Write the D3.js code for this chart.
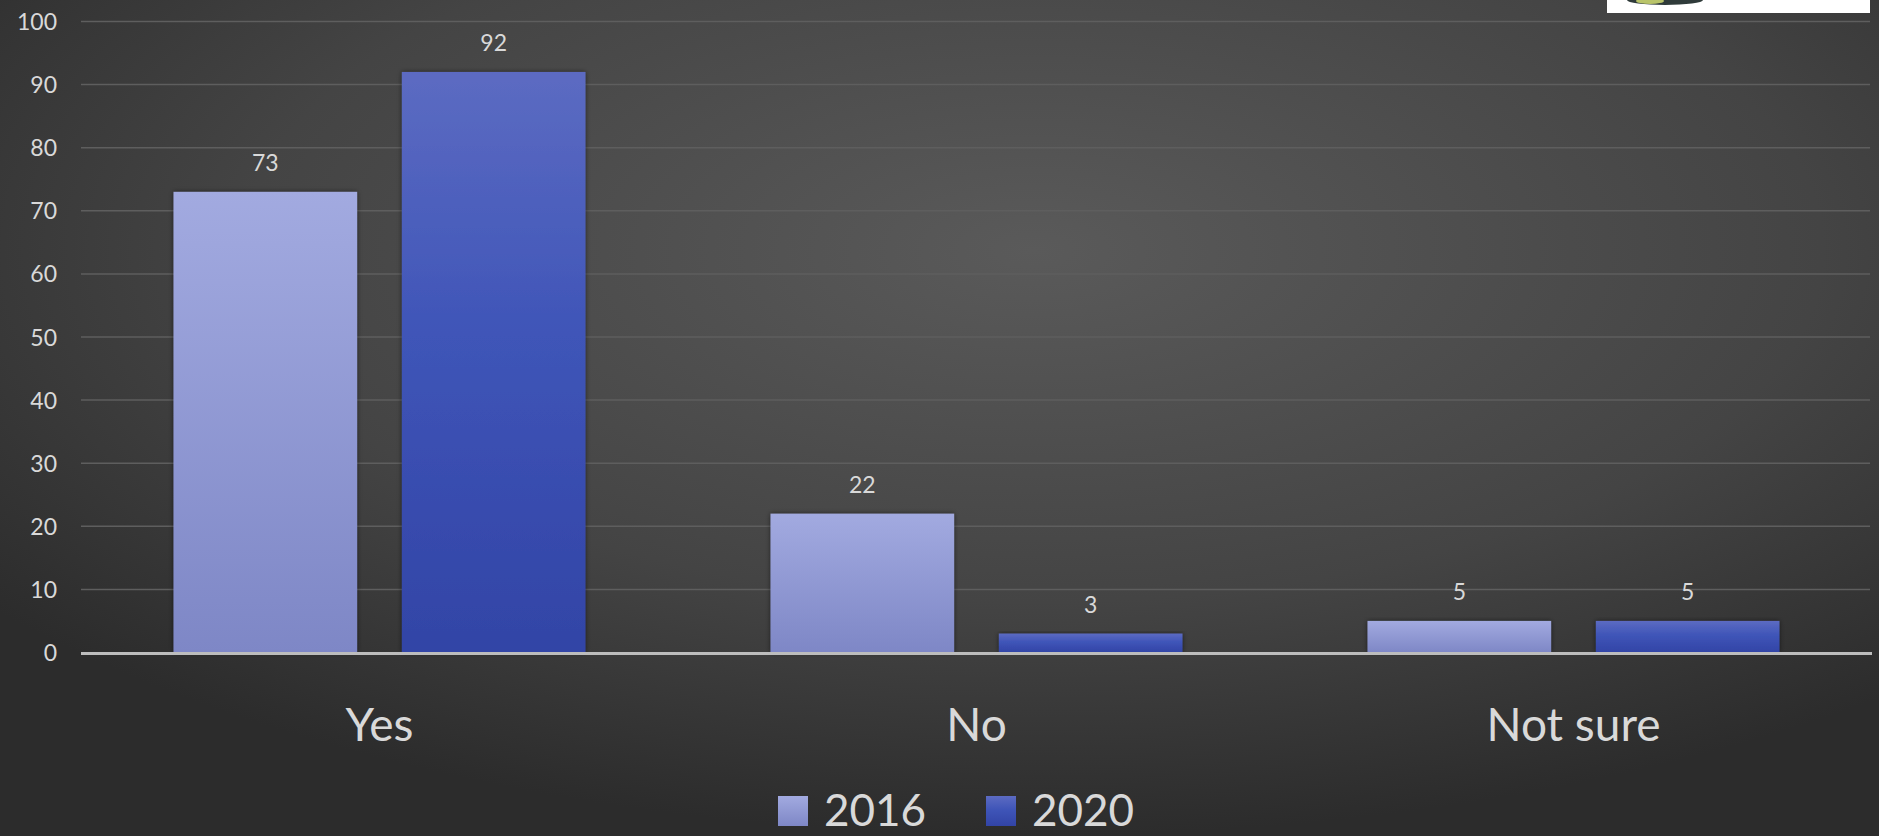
<!DOCTYPE html>
<html>
<head>
<meta charset="utf-8">
<script src="https://cdn.jsdelivr.net/npm/d3@7"></script>
<style>
html,body{margin:0;padding:0;background:#3c3c3c;}
svg{display:block;}
</style>
</head>
<body>
<svg id="chart" width="1879" height="836"></svg>
<script>
const categories = ["Yes", "No", "Not sure"];
const seriesNames = ["2016", "2020"];
const values2016 = [73, 22, 5];
const values2020 = [92, 3, 5];
const yTicks = [0, 10, 20, 30, 40, 50, 60, 70, 80, 90, 100];

const W = 1879, H = 836;
const svg = d3.select("#chart");
const defs = svg.append("defs");

// background radial gradient
const bg = defs.append("radialGradient").attr("id", "bg")
  .attr("cx", "55%").attr("cy", "30%").attr("r", "70%");
bg.append("stop").attr("offset", "0%").attr("stop-color", "#5a5a5a");
bg.append("stop").attr("offset", "60%").attr("stop-color", "#444444");
bg.append("stop").attr("offset", "100%").attr("stop-color", "#2c2c2c");
svg.append("rect").attr("width", W).attr("height", H).attr("fill", "url(#bg)");

// bar gradients
const g1 = defs.append("linearGradient").attr("id", "g2016").attr("x1", 0).attr("y1", 0).attr("x2", 0).attr("y2", 1);
g1.append("stop").attr("offset", "0%").attr("stop-color", "#a2aae0");
g1.append("stop").attr("offset", "100%").attr("stop-color", "#7e87c6");
const g2 = defs.append("linearGradient").attr("id", "g2020").attr("x1", 0).attr("y1", 0).attr("x2", 0).attr("y2", 1);
g2.append("stop").attr("offset", "0%").attr("stop-color", "#5c6bc2");
g2.append("stop").attr("offset", "45%").attr("stop-color", "#3f55b8");
g2.append("stop").attr("offset", "100%").attr("stop-color", "#3244a6");
const fills = {"2016": "url(#g2016)", "2020": "url(#g2020)"};

const sh = defs.append("filter").attr("id", "shadow").attr("x", "-10%").attr("y", "-10%").attr("width", "120%").attr("height", "120%");
sh.append("feDropShadow").attr("dx", 0).attr("dy", 0).attr("stdDeviation", 2.5)
  .attr("flood-color", "#000").attr("flood-opacity", 0.55);

// logo box top-right
svg.append("rect").attr("x", 1607).attr("y", -2).attr("width", 263).attr("height", 15).attr("fill", "#ffffff");
svg.append("ellipse").attr("cx", 1665).attr("cy", 0).attr("rx", 38).attr("ry", 5).attr("fill", "#2f3b3a");
svg.append("ellipse").attr("cx", 1650).attr("cy", 1).attr("rx", 14).attr("ry", 3).attr("fill", "#b9c46a");

const x0 = 81, x1 = 1872;
const y = d3.scaleLinear().domain([0, 100]).range([652.5, 21.5]);
const x = d3.scaleBand().domain(categories).range([x0, x1]).paddingInner(0.31).paddingOuter(0.155);
const xs = d3.scaleBand().domain(seriesNames).range([0, x.bandwidth()]).paddingInner(0.196);

const textColor = "#d9d9d9";
const font = "Lato, 'Open Sans', sans-serif";

// gridlines
svg.append("g").selectAll("line").data(yTicks.filter(d => d > 0)).join("line")
  .attr("x1", x0).attr("x2", 1870)
  .attr("y1", d => y(d)).attr("y2", d => y(d))
  .attr("stroke", "#5e5e5e").attr("stroke-width", 1.5);

// y axis labels
const yAxis = d3.axisLeft(y).tickValues(yTicks).tickSize(0).tickPadding(0);
const ya = svg.append("g").attr("transform", "translate(57,0)").call(yAxis);
ya.select(".domain").remove();
ya.selectAll("text").attr("fill", textColor).attr("font-family", font).attr("font-size", 23)
  .attr("dy", "0.35em");

// bars
const data = categories.map((c, i) => ({cat: c, vals: [
  {s: "2016", v: values2016[i]}, {s: "2020", v: values2020[i]}]}));
const groups = svg.append("g").selectAll("g").data(data).join("g")
  .attr("transform", d => `translate(${x(d.cat)},0)`);
groups.selectAll("rect").data(d => d.vals).join("rect")
  .attr("x", d => xs(d.s)).attr("width", xs.bandwidth())
  .attr("y", d => y(d.v)).attr("height", d => y(0) - y(d.v))
  .attr("fill", d => fills[d.s]).attr("filter", "url(#shadow)");
groups.selectAll("text").data(d => d.vals).join("text")
  .attr("x", d => xs(d.s) + xs.bandwidth() / 2)
  .attr("y", d => y(d.v) - 21)
  .attr("text-anchor", "middle").attr("fill", textColor)
  .attr("font-family", font).attr("font-size", 23)
  .text(d => d.v);

// x axis line
svg.append("line").attr("x1", x0).attr("x2", x1).attr("y1", y(0) + 1).attr("y2", y(0) + 1)
  .attr("stroke", "#bdbdbd").attr("stroke-width", 3);

// category labels
const xAxis = d3.axisBottom(x).tickSize(0).tickPadding(0);
const xa = svg.append("g").attr("transform", "translate(0,741)").call(xAxis);
xa.select(".domain").remove();
xa.selectAll("text").attr("fill", textColor).attr("font-family", font).attr("font-size", 46)
  .attr("dy", 0);

// legend
const legend = svg.append("g");
const legX = [778, 986];
seriesNames.forEach((s, i) => {
  legend.append("rect").attr("x", legX[i]).attr("y", 796).attr("width", 30).attr("height", 30)
    .attr("fill", fills[s]);
  legend.append("text").attr("x", legX[i] + 46).attr("y", 826)
    .attr("fill", textColor).attr("font-family", font).attr("font-size", 44).text(s);
});
</script>
</body>
</html>
